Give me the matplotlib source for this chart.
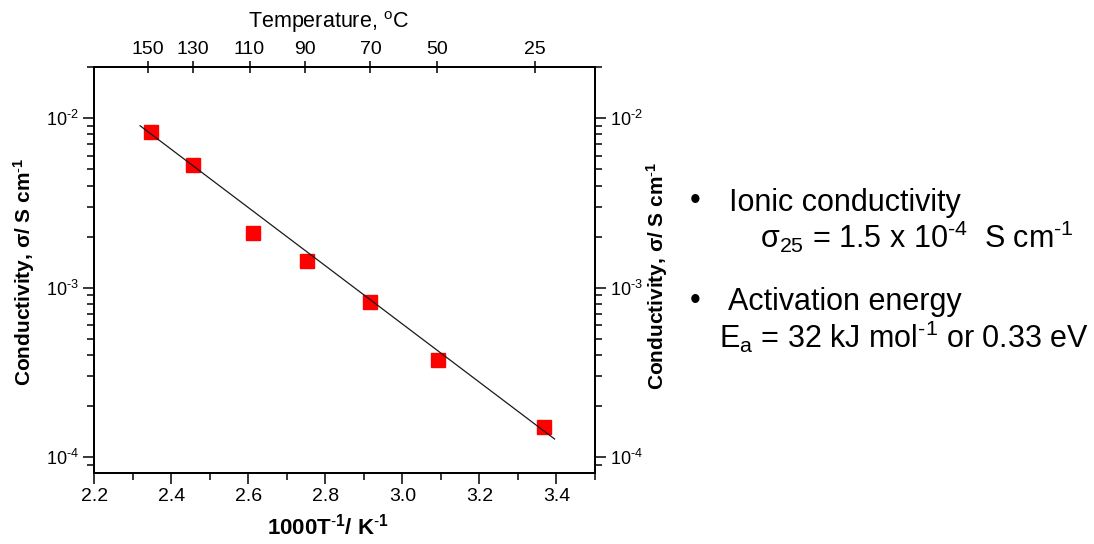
import numpy as np
import matplotlib
matplotlib.use('Agg')
import matplotlib.pyplot as plt
from matplotlib.ticker import MultipleLocator, LogLocator, NullFormatter, FuncFormatter

plt.rcParams['font.family'] = ['Liberation Sans', 'DejaVu Sans']
plt.rcParams['mathtext.fontset'] = 'custom'
plt.rcParams['mathtext.rm'] = 'Liberation Sans'
plt.rcParams['mathtext.it'] = 'Liberation Sans:italic'
plt.rcParams['mathtext.bf'] = 'Liberation Sans:bold'

inv_T = [2.347, 2.456, 2.611, 2.753, 2.915, 3.092, 3.368]       # 1000/T, 1/K
sigma = [8.24e-3, 5.28e-3, 2.09e-3, 1.44e-3, 8.2e-4, 3.74e-4, 1.51e-4]  # S/cm

# Arrhenius fit line end points
fit_x = [2.319, 3.395]
fit_y = [9.0e-3, 1.28e-4]

# Top temperature axis
temp_labels = ['150', '130', '110', '90', '70', '50', '25']
temp_pos = [2.339, 2.455, 2.603, 2.748, 2.917, 3.091, 3.343]

W, H = 1094, 544
fig = plt.figure(figsize=(W / 100, H / 100), dpi=100)
ax = fig.add_axes([94.3 / W, 1 - 472.7 / H, 500.7 / W, 405.7 / H])

ax.plot(inv_T, sigma, 's', color='#ff0000', markersize=10, mec='#ff0000', zorder=2)
ax.plot(fit_x, fit_y, '-', color='#1a1a1a', lw=0.9, zorder=3)


def pow_fmt(v, pos):
    e = int(round(np.log10(v)))
    s = str(e).replace('-', '\\text{-}')
    return '$\\mathregular{10^{%s}}$' % s


ax.set_yscale('log')
ax.set_xlim(2.2, 3.5)
ax.set_ylim(8.1e-5, 2.0e-2)
ax.xaxis.set_major_locator(MultipleLocator(0.2))
ax.xaxis.set_minor_locator(MultipleLocator(0.1))
ax.xaxis.set_major_formatter(plt.FormatStrFormatter('%.1f'))
ax.yaxis.set_major_locator(LogLocator(base=10))
ax.yaxis.set_major_formatter(FuncFormatter(pow_fmt))
ax.yaxis.set_minor_locator(LogLocator(base=10, subs=np.arange(2, 10)))
ax.yaxis.set_minor_formatter(NullFormatter())

for sp in ax.spines.values():
    sp.set_linewidth(1.3)

ax.tick_params(which='major', direction='out', length=8, width=1.1, pad=3)
ax.tick_params(which='minor', direction='out', length=5, width=1.1)
ax.tick_params(axis='x', labelsize=14)
ax.tick_params(axis='y', labelsize=13)
ax.tick_params(top=False, right=False)

ylab = 'Conductivity, $\\mathregular{\\sigma}$/ S cm$^{\\mathbf{\\text{-}1}}$'
ax.set_xlabel('1000T$^{\\mathbf{\\text{-}1}}$/ K$^{\\mathbf{\\text{-}1}}$', fontsize=16, fontweight='bold')
ax.xaxis.set_label_coords((328 - 94.3) / 500.7, -(527 - 472.7) / 405.7)
ax.xaxis.label.set_va('center')
ax.set_ylabel(ylab, fontsize=15, fontweight='bold')
ax.yaxis.set_label_coords((24 - 94.3) / 500.7, 0.495)
ax.yaxis.label.set_va('center')

# right axis copy
ax_r = ax.twinx()
ax_r.set_yscale('log')
ax_r.set_ylim(ax.get_ylim())
ax_r.yaxis.set_major_locator(LogLocator(base=10))
ax_r.yaxis.set_major_formatter(FuncFormatter(pow_fmt))
ax_r.yaxis.set_minor_locator(LogLocator(base=10, subs=np.arange(2, 10)))
ax_r.yaxis.set_minor_formatter(NullFormatter())
ax_r.tick_params(which='major', direction='out', length=8, width=1.1, labelsize=13, pad=3)
ax_r.tick_params(which='minor', direction='out', length=5, width=1.1)
ax_r.set_ylabel(ylab, fontsize=15, fontweight='bold')
ax_r.yaxis.set_label_coords((657 - 94.3) / 500.7, 0.485)
ax_r.yaxis.label.set_va('center')

# top temperature axis
ax_t = ax.twiny()
ax_t.set_xlim(ax.get_xlim())
ax_t.set_xticks(temp_pos, temp_labels)
ax_t.tick_params(axis='x', direction='inout', length=9, width=1.1, labelsize=14, pad=2)
ax_t.set_xlabel('Temperature, $^{\\mathregular{o}}$C', fontsize=15.5)
ax_t.xaxis.set_label_coords((328 - 94.3) / 500.7, 1 + (67 - 22) / 405.7)
ax_t.xaxis.label.set_va('center')
for a in (ax_r, ax_t):
    for sp in a.spines.values():
        sp.set_linewidth(1.3)

# notes on the right
fs = 22
def fx(px):
    return px / W
def fy(py):
    return 1 - py / H

fig.text(fx(695), fy(201), '\u2022', fontsize=fs, ha='center', va='center')
fig.text(fx(729), fy(210.7), 'Ionic conductivity', fontsize=fs, va='baseline')
fig.text(fx(760), fy(248), '$\\mathregular{\\sigma_{25}}$ = 1.5 x 10$^{\\mathregular{\\text{-}4}}$  S cm$^{\\mathregular{\\text{-}1}}$',
         fontsize=fs, va='baseline')
fig.text(fx(695), fy(301), '\u2022', fontsize=fs, ha='center', va='center')
fig.text(fx(728), fy(310), 'Activation energy', fontsize=fs, va='baseline')
fig.text(fx(719), fy(348.3), 'E$_{\\mathregular{a}}$ = 32 kJ mol$^{\\mathregular{\\text{-}1}}$ or 0.33 eV',
         fontsize=fs, va='baseline')

fig.savefig('out.png', dpi=100)
